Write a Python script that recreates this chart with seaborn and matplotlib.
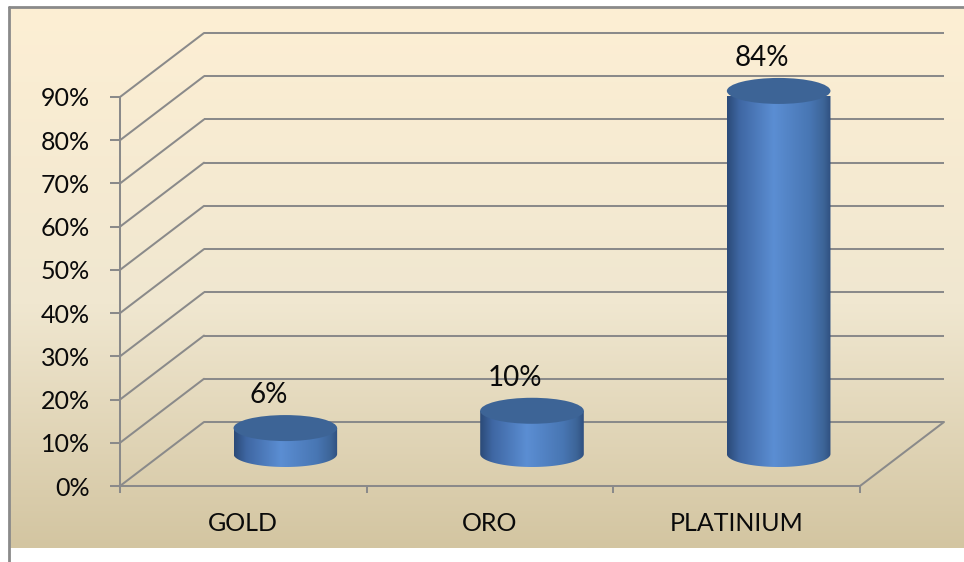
import numpy as np
import matplotlib
matplotlib.use("Agg")
import matplotlib.pyplot as plt
import matplotlib.transforms as mtransforms
from matplotlib.patches import Ellipse, PathPatch, ConnectionPatch
from matplotlib.path import Path
from matplotlib.colors import LinearSegmentedColormap
from matplotlib.lines import Line2D
import seaborn as sns

# ---------------- data ----------------
categories = ["GOLD", "ORO", "PLATINIUM"]
values = [0.06, 0.10, 0.84]
value_labels = ["6%", "10%", "84%"]
y_ticks = [0.0, 0.1, 0.2, 0.3, 0.4, 0.5, 0.6, 0.7, 0.8, 0.9]
y_tick_labels = ["0%", "10%", "20%", "30%", "40%", "50%", "60%", "70%", "80%", "90%"]

# ---------------- style ----------------
sns.set_theme(style="white")
plt.rcParams['font.family'] = ['Lato', 'DejaVu Sans']

W, H = 964, 562
fig = plt.figure(figsize=(W / 100, H / 100), dpi=100)
fig.patch.set_facecolor('white')

GRID = '#8a8a8a'
LW = 1.45
TXT = '#0a0a0a'

# background panel with vertical gradient
bg = fig.add_axes([9 / W, (H - 548) / H, (W - 9) / W, (548 - 7) / H], zorder=0)
bg_cmap = LinearSegmentedColormap.from_list(
    'bg', [(0.0, '#fdefd4'), (0.55, '#f0e7d0'), (1.0, '#d3c5a1')])
bg.imshow(np.linspace(0, 1, 256).reshape(-1, 1), cmap=bg_cmap, aspect='auto',
          extent=[0, 1, 0, 1], interpolation='bilinear')
bg.set_axis_off()
fig.add_artist(Line2D([9 / W, 1], [(H - 7) / H, (H - 7) / H], color='#8a8a8a', lw=2.0,
                      transform=fig.transFigure))
fig.add_artist(Line2D([9 / W, 9 / W], [0, (H - 7) / H], color='#8a8a8a', lw=2.0,
                      transform=fig.transFigure))

# main (front plane) axes
ax = fig.add_axes([120 / W, (H - 486) / H, 740 / W, 389 / H], zorder=2)
ax.set_facecolor('none')

sns.barplot(x=categories, y=values, width=0.42, color='#4f81bd', ax=ax)
bars = list(ax.patches)
ax.set_xlim(-0.5, 2.5)
ax.set_ylim(0, 0.9)

depth = mtransforms.offset_copy(ax.transData, fig=fig, x=42, y=32, units='dots')
back = mtransforms.offset_copy(ax.transData, fig=fig, x=84, y=64, units='dots')

# back wall gridlines + side diagonals
for t in y_ticks:
    ax.plot([-0.5, 2.5], [t, t], transform=back, color=GRID, lw=LW,
            clip_on=False, zorder=1, solid_capstyle='butt')
    con = ConnectionPatch(xyA=(-0.5, t), coordsA=ax.transData, xyB=(-0.5, t),
                          coordsB=back, color=GRID, lw=LW, zorder=1)
    con.set_clip_on(False)
    ax.add_artist(con)
con = ConnectionPatch(xyA=(2.5, 0), coordsA=ax.transData, xyB=(2.5, 0),
                      coordsB=back, color=GRID, lw=LW, zorder=1)
con.set_clip_on(False)
ax.add_artist(con)

# cylinders built from the seaborn bars
px = 0.9 / 389.0
eh = 13 * px
body_cmap = LinearSegmentedColormap.from_list(
    'body', [(0.0, '#2b4a78'), (0.12, '#3f67a3'), (0.45, '#5b8ed3'),
             (0.8, '#4876b3'), (0.93, '#3d6598'), (1.0, '#2f5080')])
grad = np.linspace(0, 1, 256).reshape(1, -1)
for p in bars:
    x0, w, h = p.get_x(), p.get_width(), p.get_height()
    p.set_visible(False)
    c, a = x0 + w / 2, w / 2
    th = np.linspace(np.pi, 2 * np.pi, 80)
    verts = [(c - a, h)] + list(zip(c + a * np.cos(th), eh * np.sin(th))) + [(c + a, h), (c - a, h)]
    codes = [Path.MOVETO] + [Path.LINETO] * (len(verts) - 2) + [Path.CLOSEPOLY]
    clip = PathPatch(Path(verts, codes), transform=depth, facecolor='none', edgecolor='none')
    im = ax.imshow(grad, cmap=body_cmap, extent=[c - a, c + a, -eh, h], aspect='auto',
                   transform=depth, zorder=3, interpolation='bilinear')
    im.set_clip_path(clip)
    im.set_clip_box(None)
    top = Ellipse((c, h), width=2 * a, height=2 * eh, transform=depth,
                  facecolor='#3d6496', edgecolor='none', zorder=4, clip_on=False)
    ax.add_patch(top)

ax.set_xlim(-0.5, 2.5)
ax.set_ylim(0, 0.9)
ax.set_aspect('auto')

# value labels
lab_tr = mtransforms.offset_copy(ax.transData, fig=fig, x=25, y=65, units='dots')
for i, (v, s) in enumerate(zip(values, value_labels)):
    ax.text(i, v, s, transform=lab_tr, ha='center', va='center', fontsize=20,
            color=TXT, clip_on=False, zorder=5)

# axes / ticks
for side in ['top', 'right']:
    ax.spines[side].set_visible(False)
for side in ['left', 'bottom']:
    ax.spines[side].set_visible(True)
    ax.spines[side].set_color(GRID)
    ax.spines[side].set_linewidth(LW)
    ax.spines[side].set_zorder(1)

ax.set_yticks(y_ticks, y_tick_labels)
ax.tick_params(axis='y', left=True, length=7.2, width=LW, color=GRID, pad=14.4,
               labelsize=18, labelcolor=TXT)
ax.set_xticks([-0.5, 0.5, 1.5, 2.5], [''] * 4)
ax.set_xticks([0, 1, 2], categories, minor=True)
ax.tick_params(axis='x', which='major', bottom=True, length=5, width=LW, color=GRID)
ax.tick_params(axis='x', which='minor', bottom=True, length=0, pad=18.5,
               labelsize=18, labelcolor=TXT)
ax.set_xlabel('')
ax.set_ylabel('')
ax.grid(False)

fig.savefig('out.png', dpi=100)
